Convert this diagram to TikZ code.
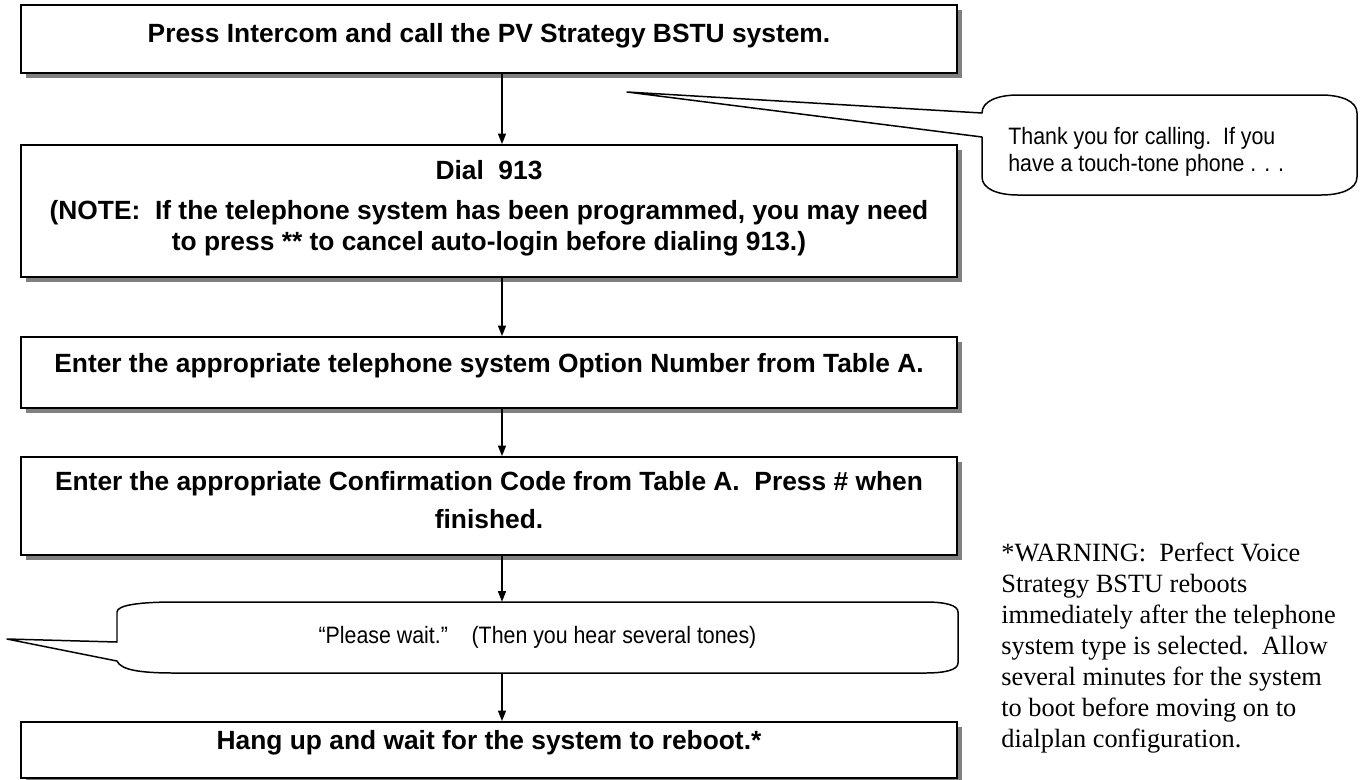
\documentclass[tikz,border=0pt]{standalone}
\usepackage{fontspec}
\setmainfont{Liberation Serif}
\newfontfamily\arialfont{Liberation Sans}
\newfontfamily\narrowfont[FakeStretch=0.9]{Liberation Sans}
\usetikzlibrary{arrows.meta,shadows}

\begin{document}
\begin{tikzpicture}[x=0.02cm, y=-0.02cm, stepnode/.style={rectangle, draw=black, fill=white, line width=1.1pt, minimum width=18.72cm, inner sep=0pt, drop shadow={opacity=1, fill=black!50, shadow xshift=0.1cm, shadow yshift=-0.1cm}},
 steptext/.style={font=\arialfont\bfseries\fontsize{15}{17.6}\selectfont, align=center, inner sep=0pt},
 bubblenode/.style={inner sep=0pt, font=\narrowfont\fontsize{13.5}{15.2}\selectfont, align=left},
 bubbleline/.style={draw=black, fill=white, line width=0.85pt, line join=round},
 notenode/.style={inner sep=0pt, font=\fontsize{15}{17.6}\selectfont, align=left},
 flow/.style={-{Triangle[length=6pt,width=4.6pt]}, line width=0.8pt}, ]

                \useasboundingbox (0,0) rectangle (1363,779);

                \node[stepnode, minimum height=1.36cm] (1) at (489,39) {};
                \node[stepnode, minimum height=2.64cm] (2) at (489,211) {};
                \node[stepnode, minimum height=1.42cm] (3) at (489,372.5) {};
                \node[stepnode, minimum height=1.96cm] (4) at (489,506) {};
                \node[stepnode, minimum height=1.12cm] (5) at (489,750) {};

                \node[steptext, anchor=base] (t1) at (489,42) {Press Intercom and call the PV Strategy BSTU system.};
                \node[steptext] (t2) at (489,208) {Dial\ \ 913\\[5pt](NOTE:\ \ If the telephone system has been programmed, you may need\\to press ** to cancel auto-login before dialing 913.)};
                \node[steptext, anchor=base] (t3) at (489,372) {Enter the appropriate telephone system Option Number from Table A.};
                \node[steptext] (t4) at (489,500) {Enter the appropriate Confirmation Code from Table A.\ \ Press \# when\\[4pt]finished.};
                \node[steptext, anchor=base] (t5) at (489,749) {Hang up and wait for the system to reboot.*};

                \draw[bubbleline] (627,92) -- (982,113) .. controls (982,101) and (998,95) .. (1018,95) -- (1321,95) .. controls (1341,95) and (1357,101) .. (1357,113) -- (1357,177) .. controls (1357,189) and (1341,195) .. (1321,195) -- (1018,195) .. controls (998,195) and (982,189) .. (982,177) -- (982,137) -- cycle;
                \node[bubblenode, anchor=west] (c1) at (1008,152) {Thank you for calling.\ \ If you\\have a touch-tone phone . . .};

                \draw[bubbleline] (7,639) -- (117,642) -- (117,612) .. controls (117,605) and (140,602) .. (175,602) -- (925,602) .. controls (945,602) and (958,605) .. (958,612) -- (958,663) .. controls (958,670) and (945,673) .. (925,673) -- (175,673) .. controls (140,673) and (121,670) .. (117,661) -- cycle;
                \node[bubblenode, minimum width=16.82cm, minimum height=1.42cm, align=center] (c2) at (537.5,637.5) {“Please wait.”\ \ \ \ (Then you hear several tones)};

                \node[notenode, anchor=north west] (warn) at (1001,543) {*WARNING:\ \ Perfect Voice\\Strategy BSTU reboots\\immediately after the telephone\\system type is selected.\ \ Allow\\several minutes for the system\\to boot before moving on to\\dialplan configuration.};

                \coordinate (ax) at (502,0);
                \path [flow] (ax |- 1.south) edge (ax |- 2.north)
                             (ax |- 2.south) edge (ax |- 3.north)
                             (ax |- 3.south) edge (ax |- 4.north)
                             (ax |- 4.south) edge (ax |- c2.north)
                             (ax |- c2.south) edge (ax |- 5.north);
\end{tikzpicture}
\end{document}
